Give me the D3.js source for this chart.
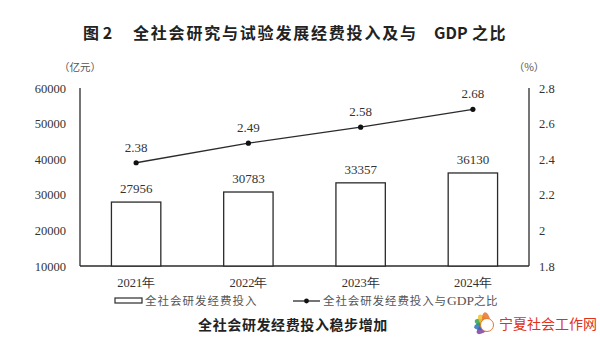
<!DOCTYPE html>
<html>
<head>
<meta charset="utf-8">
<script src="https://cdn.jsdelivr.net/npm/d3@7"></script>
<style>
    body { margin: 0; background: #fff; }
    svg { display: block; }
</style>
</head>
<body>
<div id="chart"></div>
<script>
/*global d3*/
var years = ['2021年', '2022年', '2023年', '2024年'],
    spending = [27956, 30783, 33357, 36130],
    ratio = [2.38, 2.49, 2.58, 2.68],
    leftTicks = [10000, 20000, 30000, 40000, 50000, 60000],
    rightTicks = [1.8, 2, 2.2, 2.4, 2.6, 2.8];

(function () {
    'use strict';

    var width = 600,
        height = 354,
        left = 80,
        right = 529,
        top = 88,
        bottom = 266,
        serif = '"Liberation Serif", "Times New Roman", serif',
        cjk = '"Noto Sans CJK SC", sans-serif',
        ink = '#2b2b2b',

        svg = d3.select('#chart')
            .append('svg')
            .attr('width', width)
            .attr('height', height),

        x = d3.scaleBand()
            .domain(years)
            .range([left, right])
            .paddingInner(0.56)
            .paddingOuter(0.28),

        yLeft = d3.scaleLinear()
            .domain([10000, 60000])
            .range([bottom, top]),

        yRight = d3.scaleLinear()
            .domain([1.8, 2.8])
            .range([bottom, top]),

        rows = years.map(function (y, i) {
            return { year: y, value: spending[i], ratio: ratio[i] };
        }),

        cx = function (d) { return x(d.year) + x.bandwidth() / 2; };

    svg.append('rect')
        .attr('width', width)
        .attr('height', height)
        .style('fill', '#fff');

    // title
    var title = svg.append('text')
        .attr('y', 39)
        .style('font-family', cjk)
        .style('font-weight', 'bold')
        .style('font-size', '16px')
        .style('fill', '#222');
    title.append('tspan').attr('x', 83).text('图 2');
    title.append('tspan').attr('x', 133).style('letter-spacing', '1.8px').text('全社会研究与试验发展经费投入及与');
    title.append('tspan').attr('x', 434).text('GDP');
    title.append('tspan').attr('x', 472).style('letter-spacing', '1.5px').text('之比');

    // units
    svg.append('text')
        .attr('x', 80)
        .attr('y', 71)
        .attr('text-anchor', 'middle')
        .style('font-family', cjk)
        .style('font-size', '10.5px')
        .style('fill', '#555')
        .text('（亿元）');
    svg.append('text')
        .attr('x', 529)
        .attr('y', 71)
        .attr('text-anchor', 'middle')
        .style('font-family', cjk)
        .style('font-size', '10.5px')
        .style('fill', '#555')
        .text('（%）');

    // axes
    var axisLeft = svg.append('g')
        .attr('transform', 'translate(' + left + ',0)')
        .call(d3.axisLeft(yLeft).tickValues(leftTicks).tickSize(0).tickPadding(14).tickFormat(d3.format('d')));
    var axisRight = svg.append('g')
        .attr('transform', 'translate(' + right + ',0)')
        .call(d3.axisRight(yRight).tickValues(rightTicks).tickSize(0).tickPadding(10).tickFormat(function (d) { return String(+d.toFixed(1)); }));
    var axisBottom = svg.append('g')
        .attr('transform', 'translate(0,' + bottom + ')')
        .call(d3.axisBottom(x).tickSize(0).tickPadding(12));

    [axisLeft, axisRight, axisBottom].forEach(function (g) {
        g.select('.domain').style('stroke', ink).style('stroke-width', '1.3px');
        g.selectAll('text')
            .style('font-family', serif)
            .style('font-size', '12.5px')
            .style('fill', '#333');
    });
    axisBottom.select('.domain').attr('d', 'M' + left + ',0H' + right);
    axisLeft.select('.domain').attr('d', 'M0,' + top + 'V' + bottom);
    axisRight.select('.domain').attr('d', 'M0,' + top + 'V' + bottom);

    // bars
    svg.selectAll('rect.bar')
        .data(rows)
        .enter()
        .append('rect')
        .attr('class', 'bar')
        .attr('x', function (d) { return x(d.year); })
        .attr('y', function (d) { return yLeft(d.value); })
        .attr('width', x.bandwidth())
        .attr('height', function (d) { return bottom - yLeft(d.value); })
        .style('fill', '#fff')
        .style('stroke', ink)
        .style('stroke-width', '1.3px');

    svg.selectAll('text.bar-label')
        .data(rows)
        .enter()
        .append('text')
        .attr('class', 'bar-label')
        .attr('x', cx)
        .attr('y', function (d) { return yLeft(d.value) - 9; })
        .attr('text-anchor', 'middle')
        .style('font-family', serif)
        .style('font-size', '13px')
        .style('fill', '#333')
        .text(function (d) { return d.value; });

    // ratio line
    svg.append('path')
        .datum(rows)
        .attr('d', d3.line().x(cx).y(function (d) { return yRight(d.ratio); }))
        .style('fill', 'none')
        .style('stroke', ink)
        .style('stroke-width', '1.3px');

    svg.selectAll('circle.dot')
        .data(rows)
        .enter()
        .append('circle')
        .attr('class', 'dot')
        .attr('cx', cx)
        .attr('cy', function (d) { return yRight(d.ratio); })
        .attr('r', 2.6)
        .style('fill', '#111');

    svg.selectAll('text.dot-label')
        .data(rows)
        .enter()
        .append('text')
        .attr('class', 'dot-label')
        .attr('x', cx)
        .attr('y', function (d) { return yRight(d.ratio) - 11; })
        .attr('text-anchor', 'middle')
        .style('font-family', serif)
        .style('font-size', '13px')
        .style('fill', '#333')
        .text(function (d) { return d.ratio.toFixed(2); });

    // legend
    svg.append('rect')
        .attr('x', 115)
        .attr('y', 298)
        .attr('width', 27)
        .attr('height', 5)
        .style('fill', '#fff')
        .style('stroke', ink)
        .style('stroke-width', '1.2px');
    svg.append('text')
        .attr('x', 145)
        .attr('y', 305)
        .style('font-family', cjk)
        .style('font-size', '11.5px')
        .style('letter-spacing', '1px')
        .style('fill', '#555')
        .text('全社会研发经费投入');

    svg.append('line')
        .attr('x1', 293)
        .attr('x2', 320)
        .attr('y1', 301)
        .attr('y2', 301)
        .style('stroke', ink)
        .style('stroke-width', '1.3px');
    svg.append('circle')
        .attr('cx', 306.5)
        .attr('cy', 301)
        .attr('r', 2.4)
        .style('fill', '#111');
    var lineLegend = svg.append('text')
        .attr('x', 323)
        .attr('y', 305)
        .style('font-family', cjk)
        .style('font-size', '11.5px')
        .style('fill', '#555');
    lineLegend.append('tspan').style('letter-spacing', '0.9px').text('全社会研发经费投入与');
    lineLegend.append('tspan').style('font-family', serif).style('font-size', '13.5px').text('GDP');
    lineLegend.append('tspan').style('letter-spacing', '0.5px').text('之比');

    // subtitle
    svg.append('text')
        .attr('x', 293)
        .attr('y', 330)
        .attr('text-anchor', 'middle')
        .style('font-family', cjk)
        .style('font-weight', 'bold')
        .style('font-size', '14px')
        .style('letter-spacing', '0.6px')
        .style('fill', '#222')
        .text('全社会研发经费投入稳步增加');

    // watermark
    var logo = svg.append('g').attr('transform', 'translate(487,325)');
    [['#7b3fa0', -40], ['#2f6fc0', -10], ['#2fa34a', 20], ['#f2c12e', 50], ['#e8742a', 80]].forEach(function (p) {
        logo.append('ellipse')
            .attr('rx', 9)
            .attr('ry', 4)
            .attr('transform', 'rotate(' + p[1] + ') translate(-4,0)')
            .style('fill', p[0])
            .style('opacity', 0.85);
    });
    logo.append('circle')
        .attr('r', 6.5)
        .style('fill', '#fff')
        .style('stroke', '#e8742a')
        .style('stroke-width', '1px');
    svg.append('text')
        .attr('x', 499)
        .attr('y', 329)
        .style('font-family', cjk)
        .style('font-size', '14px')
        .style('fill', '#e0301e')
        .text('宁夏社会工作网');
}());
</script>
</body>
</html>
